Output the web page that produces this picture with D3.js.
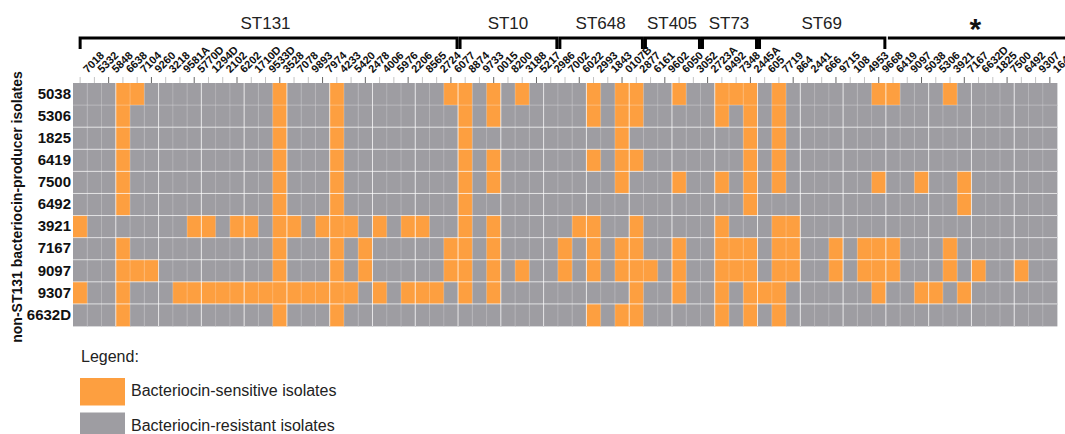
<!DOCTYPE html>
<html><head><meta charset="utf-8">
<script src="https://cdn.jsdelivr.net/npm/d3@7"></script>
<style>
html,body{margin:0;padding:0;background:#fff;overflow:hidden;}
svg{display:block;font-family:"Liberation Sans",Arial,Helvetica,sans-serif;}
</style></head><body>
<svg id="chart" width="1065" height="434"></svg>
<script>
// ---- DATA ----
const columns = ["7018","5332","5848","6638","7104","9260","3218","9581A","5770D","1294D","2102","6202","1710D","9533D","3528","7078","9893","7974","4233","5420","2478","4006","5976","2206","8565","2724","6077",
  "8874","9733","0015","8200","3188","5217","2986",
  "7002","6022","2993","1843","0107B","2877",
  "6161","9602","6050","3052",
  "2723A","9492","7348","2445A",
  "605","7719","864","2441","666","9715","108","4953","9668",
  "6419","9097","5038","5306","3921","7167","6632D","1825","7500","6492","9307","1641"];
const groupNames = ["ST131","ST10","ST648","ST405","ST73","ST69","*"];
const groupSizes = [27,7,6,4,4,9,12];
const rows = ["5038","5306","1825","6419","7500","6492","3921","7167","9097","9307","6632D"];
// 1 = bacteriocin-sensitive, 0 = bacteriocin-resistant (one char per column)
const sensitive = [
  "0001100000"+"0000100010"+"0000001101"+"0100001011"+"0010011101"+"0000001100"+"010000000",
  "0001000000"+"0000100010"+"0000000101"+"0000001011"+"0000010101"+"0000000000"+"000000000",
  "0001000000"+"0000100010"+"0000000100"+"0000000010"+"0000000101"+"0000000000"+"000000000",
  "0001000000"+"0000100010"+"0000000101"+"0000001011"+"0000000101"+"0000000000"+"000000000",
  "0001000000"+"0000100010"+"0000000101"+"0000000010"+"0010010101"+"0000001001"+"001000000",
  "0001000000"+"0000100010"+"0000000100"+"0000000000"+"0000000100"+"0000000000"+"001000000",
  "1000000011"+"0110110111"+"0101100101"+"0000011001"+"0000010001"+"1000000000"+"000000000",
  "0001000000"+"0000100010"+"1000001101"+"0000101011"+"0010011101"+"1001011100"+"010000000",
  "0001110000"+"0000100010"+"1000001101"+"0100101011"+"1010011101"+"1001011100"+"010100100",
  "1001000111"+"1111111111"+"0101110101"+"0000000001"+"0010010111"+"0000001001"+"101000000",
  "0001000000"+"0000100010"+"0000000000"+"0000001011"+"0000010101"+"0000000000"+"000000000"
];
const legendTitle = "Legend:";
const legendLabels = ["Bacteriocin-sensitive isolates","Bacteriocin-resistant isolates"];
const yTitle = "non-ST131 bacteriocin-producer isolates";

// ---- CHART ----
const W = 1065, H = 434;
const ORANGE = "#FD9F40", GRAY = "#9E9DA2";
const svg = d3.select("#chart");
const x = d3.scaleBand().domain(columns).range([73, 1057]);
const y = d3.scaleBand().domain(rows).range([83, 326]);
const color = d3.scaleOrdinal().domain(["1","0"]).range([ORANGE, GRAY]);
const bw = x.bandwidth(), bh = y.bandwidth();

const cells = [];
rows.forEach((r, ri) => columns.forEach((c, ci) => cells.push({r, c, v: sensitive[ri][ci]})));
svg.append("g").selectAll("rect").data(cells).join("rect")
  .attr("x", d => x(d.c)).attr("y", d => y(d.r))
  .attr("width", bw + 0.4).attr("height", bh + 0.4)
  .attr("fill", d => color(d.v));

// cell borders
const gl = svg.append("g").attr("stroke", "#fff");
gl.selectAll("line.v").data(columns.slice(1)).join("line").attr("class","v")
  .attr("x1", d => x(d)).attr("x2", d => x(d)).attr("y1", 83).attr("y2", 326)
  .attr("stroke-opacity", (d, i) => ((i + 1) % 3 === 0 ? 0.75 : 0.22)).attr("stroke-width", 1);
gl.selectAll("line.h").data(rows.slice(1)).join("line").attr("class","h")
  .attr("y1", d => y(d)).attr("y2", d => y(d)).attr("x1", 73).attr("x2", 1057)
  .attr("stroke-opacity", (d, i) => (i === 0 ? 0.25 : 0.7)).attr("stroke-width", 1);

// top axis (isolate labels)
const ax = svg.append("g").attr("transform", "translate(0,83)")
  .call(d3.axisTop(x).tickSize(6).tickSizeOuter(0));
ax.select(".domain").remove();
ax.selectAll(".tick line").attr("stroke", (d, i) => (i % 3 === 2 ? "#666" : "#c4c4c4"));
ax.selectAll(".tick text")
  .attr("x", 0).attr("y", 0).attr("dy", 0)
  .attr("transform", "translate(7.5,-9.5) rotate(-45)")
  .style("text-anchor", "start")
  .style("font-family", "'Liberation Sans',Arial,sans-serif")
  .style("font-size", "11px").style("font-weight", "bold").attr("fill", "#111");

// left axis (producer isolates)
const ay = svg.append("g").attr("transform", "translate(73,0)")
  .call(d3.axisLeft(y).tickSize(0).tickPadding(2));
ay.select(".domain").remove();
ay.selectAll(".tick text")
  .style("font-family", "'Liberation Sans',Arial,sans-serif")
  .style("font-size", "15px").style("font-weight", "bold").attr("fill", "#111");

svg.append("text").attr("transform", "translate(22,207) rotate(-90)")
  .attr("text-anchor", "middle").style("font-size", "14px").style("font-weight", "bold")
  .attr("fill", "#111").text(yTitle);

// group brackets
let start = 0;
groupNames.forEach((g, gi) => {
  const end = start + groupSizes[gi] - 1;
  const last = gi === groupNames.length - 1;
  const x0 = gi === 0 ? x(columns[start]) + bw / 2 : x(columns[start]) + 2;
  const x1 = last ? W : x(columns[end]) + bw - 1;
  const path = last ? `M${x0},38H${x1}` : `M${x0},49V38H${x1}V49`;
  svg.append("path").attr("d", path).attr("fill", "none").attr("stroke", "#000").attr("stroke-width", 3);
  const cx = (x(columns[start]) + x(columns[end]) + bw) / 2;
  if (g === "*") {
    svg.append("text").attr("x", cx + 4).attr("y", 39).attr("text-anchor", "middle")
      .style("font-size", "30px").style("font-weight", "bold").attr("fill", "#111").text(g);
  } else {
    svg.append("text").attr("x", cx).attr("y", 29).attr("text-anchor", "middle")
      .style("font-size", "17px").attr("fill", "#222").text(g);
  }
  start = end + 1;
});

// legend
svg.append("text").attr("x", 81).attr("y", 361.5).style("font-size", "16px").attr("fill", "#222").text(legendTitle);
const lg = svg.append("g").selectAll("g").data(legendLabels).join("g")
  .attr("transform", (d, i) => `translate(80,${378 + i * 34.5})`);
lg.append("rect").attr("width", 45).attr("height", 27.5).attr("fill", (d, i) => (i === 0 ? ORANGE : GRAY));
lg.append("text").attr("x", 51).attr("y", 18).style("font-size", "16px").attr("fill", "#222").text(d => d);
</script>
</body></html>
